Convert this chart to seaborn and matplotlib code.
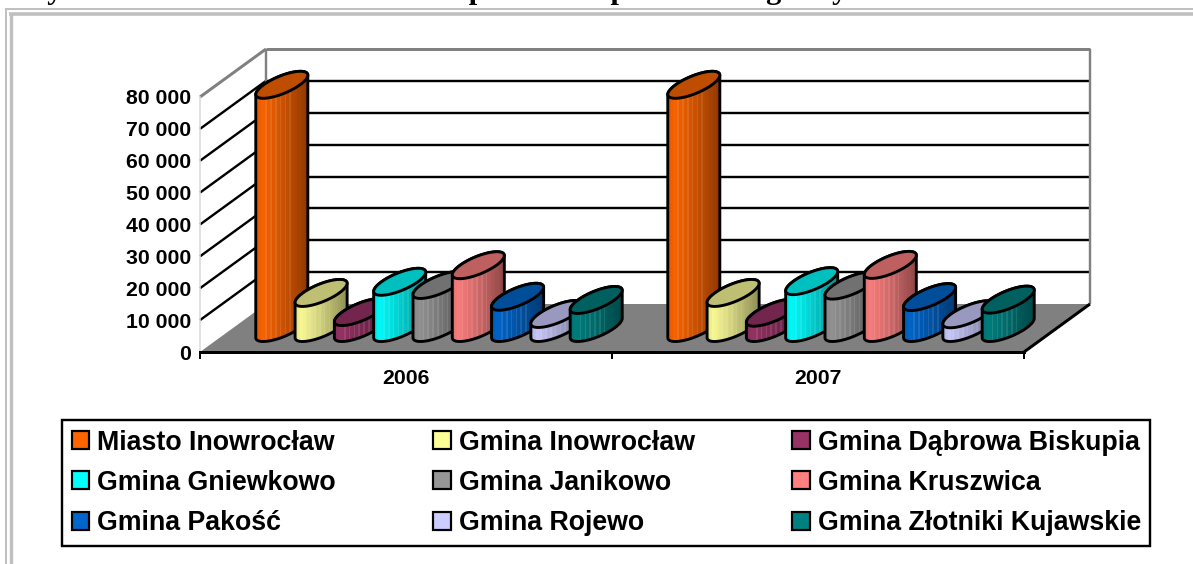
import numpy as np
import pandas as pd
import matplotlib
matplotlib.use("Agg")
import matplotlib.pyplot as plt
import seaborn as sns
from matplotlib.collections import PolyCollection
from matplotlib.lines import Line2D
from matplotlib.patches import Patch, Polygon
from matplotlib.path import Path
from matplotlib.transforms import Affine2D, IdentityTransform
from matplotlib.ticker import FuncFormatter

# ---- data ----
YEARS = ["2006", "2007"]
GMINY = ["Miasto Inowrocław", "Gmina Inowrocław", "Gmina Dąbrowa Biskupia",
         "Gmina Gniewkowo", "Gmina Janikowo", "Gmina Kruszwica",
         "Gmina Pakość", "Gmina Rojewo", "Gmina Złotniki Kujawskie"]
VALUES_2006 = [76300, 11000, 5000, 14500, 13500, 19700, 9800, 4400, 8800]
VALUES_2007 = [76300, 11000, 4800, 14700, 13300, 19800, 9700, 4300, 8900]
COLORS = ["#FF6600", "#FFFF99", "#993366", "#00FFFF", "#969696",
          "#FF8080", "#0066CC", "#CCCCFF", "#008080"]
Y_TICKS = [0, 10000, 20000, 30000, 40000, 50000, 60000, 70000, 80000]
TITLE = "Wykres nr 5. Liczba mieszkańców powiatu w podziale na gminy"

# ---- layout ----
W, H = 1193, 564
AX_L, AX_R, AX_B, AX_T = 200, 1024, 352, 97     # front plane, pixels from top-left
DEPTH = (66, 48)                                # oblique depth, pixels
ELL_U = (18.2, 0.0)
ELL_V = (18.6, 13.5)
FRAME = "#C0C0C0"
WALL = "#808080"
FONT = "Liberation Sans"
px = 0.72   # line width in points for one pixel at dpi 100

sns.set_theme(style="white")
plt.rcParams["font.family"] = [FONT, "DejaVu Sans"]

df = pd.DataFrame({
    "rok": [YEARS[0]] * len(GMINY) + [YEARS[1]] * len(GMINY),
    "gmina": GMINY + GMINY,
    "mieszkancy": VALUES_2006 + VALUES_2007,
})

fig = plt.figure(figsize=(W / 100, H / 100), dpi=100, facecolor="white")
ax = fig.add_axes([AX_L / W, 1 - AX_B / H, (AX_R - AX_L) / W, (AX_B - AX_T) / H])
sns.barplot(data=df, x="rok", y="mieszkancy", hue="gmina", hue_order=GMINY,
            palette=COLORS, width=0.8585, gap=0, dodge=True, legend=False,
            errorbar=None, ax=ax, saturation=1)
bars = list(ax.patches)
ax.set_xlim(-0.5, 1.5)
ax.set_ylim(0, 80000)
ax.set_facecolor("none")
ax.set_xlabel("")
ax.set_ylabel("")
fig.canvas.draw()

# ---- axes ----
ax.yaxis.set_major_formatter(FuncFormatter(lambda v, _: f"{int(v):,}".replace(",", " ")))
ax.set_yticks(Y_TICKS)
ax.tick_params(axis="y", length=0, pad=6.5, labelsize=15.3)
for t in ax.get_yticklabels():
    t.set_fontweight("bold"); t.set_color("black")
ax.set_xticks([-0.5, 0.5, 1.5])
ax.set_xticklabels(["", "", ""])
ax.set_xticks([0, 1], YEARS, minor=True)
ax.tick_params(axis="x", which="major", length=5, width=2 * px, color="black", bottom=True)
ax.tick_params(axis="x", which="minor", length=0, pad=12.5, labelsize=15.3, bottom=False)
for t in ax.get_xticklabels(minor=True):
    t.set_fontweight("bold"); t.set_color("black")
for s in ("top", "right"):
    ax.spines[s].set_visible(False)
ax.spines["bottom"].set_color("black")
ax.spines["bottom"].set_linewidth(3 * px)
ax.spines["bottom"].set_zorder(2.5)
ax.spines["left"].set_color("#D8D8D8")
ax.spines["left"].set_linewidth(1.5 * px)

# ---- walls, floor, gridlines in display coordinates derived from the axis scale ----
ident = IdentityTransform()
dx, dy = DEPTH
def disp(x, y):
    return ax.transData.transform((x, y))
def wall_line(xs, ys, color, lw, z):
    ax.add_artist(Line2D(xs, ys, transform=ident, color=color, lw=lw, zorder=z,
                         solid_capstyle="butt", clip_on=False))
x0, x1 = ax.get_xlim()
fl = disp(x0, 0); fr = disp(x1, 0)
ax.add_patch(Polygon([fl, fr, fr + [dx, dy], fl + [dx, dy]], closed=True, transform=ident,
                     facecolor=WALL, edgecolor="none", zorder=1.5, clip_on=False))
for v in Y_TICKS[1:]:
    a = disp(x0, v); b = disp(x1, v)
    color = WALL if v == Y_TICKS[-1] else "black"
    lw = (3 if v == Y_TICKS[-1] else 2.4) * px
    wall_line([a[0] + dx, b[0] + dx], [a[1] + dy, b[1] + dy], color, lw, 1)
    wall_line([a[0], a[0] + dx], [a[1], a[1] + dy], color, lw, 1)
top_l = disp(x0, Y_TICKS[-1]); top_r = disp(x1, Y_TICKS[-1])
for xx in (top_l[0] + dx, top_r[0] + dx):
    wall_line([xx, xx], [fl[1] + dy, top_l[1] + dy], WALL, 2.4 * px, 1.2)
wall_line([fr[0], fr[0] + dx], [fr[1], fr[1] + dy], "black", 3 * px, 2)
wall_line([fl[0], fr[0]], [fl[1], fr[1]], "black", 3 * px, 2)

# ---- cylinders from the bars seaborn drew ----
def shade(s):
    return np.interp(s, [0, 0.1, 0.5, 1.0], [0.88, 0.97, 0.80, 0.55])

ux, vx, vy = ELL_U[0], ELL_V[0], ELL_V[1]
t0 = np.arctan2(vx, ux)
half_w = np.hypot(ux, vx)
px_per_x = abs(disp(1, 0)[0] - disp(0, 0)[0])
bars = sorted(bars, key=lambda b: b.get_x())
for i, bar in enumerate(bars):
    z = 3 + i * 0.01
    col = np.array(matplotlib.colors.to_rgb(bar.get_facecolor()))
    xc = bar.get_x() + bar.get_width() / 2
    h = bar.get_height()
    base = disp(xc, 0) + [dx / 2, dy / 2]
    top = disp(xc, h) + [dx / 2, dy / 2]
    ta = np.linspace(t0, t0 + np.pi, 40)
    tb = np.linspace(t0 + np.pi, t0 + 2 * np.pi, 40)
    upper = np.c_[top[0] + ux * np.cos(ta) + vx * np.sin(ta), top[1] + vy * np.sin(ta)]
    lower = np.c_[base[0] + ux * np.cos(tb) + vx * np.sin(tb), base[1] + vy * np.sin(tb)]
    sil = Path(np.r_[upper, lower, upper[:1]], closed=True)
    # seaborn's rectangle becomes the body of the cylinder
    bar.set_x(xc - half_w / px_per_x)
    bar.set_width(2 * half_w / px_per_x)
    bar.set_transform(ax.transData + Affine2D().translate(dx / 2, dy / 2))
    bar.set_edgecolor("none")
    bar.set_zorder(z)
    bar.set_clip_box(None)
    bar.set_clip_path(sil, ident)
    # shaded strips
    edges = np.arange(-half_w, half_w, 1.6)
    ylo, yhi = base[1] - vy - 2, top[1] + vy + 2
    polys, fcs = [], []
    for j, e in enumerate(edges):
        s = (e + half_w) / (2 * half_w)
        c = col * shade(s)
        if 0.18 < s < 0.68 and j % 3 == 0:
            c = c + (1 - c) * 0.10
        polys.append([(base[0] + e, ylo), (base[0] + e + 1.7, ylo),
                      (base[0] + e + 1.7, yhi), (base[0] + e, yhi)])
        fcs.append(np.clip(c, 0, 1))
    strips = PolyCollection(polys, facecolors=fcs, edgecolors="none", transform=ident, zorder=z + 0.001)
    ax.add_collection(strips, autolim=False)
    strips.set_clip_box(None)
    strips.set_clip_path(sil, ident)
    # outline and lid
    ax.add_patch(Polygon(sil.vertices[:-1], closed=True, transform=ident, fill=False, edgecolor="black",
                         lw=2.9 * px, joinstyle="round", clip_on=False, zorder=z + 0.002))
    tl = np.linspace(0, 2 * np.pi, 80)
    lid = np.c_[top[0] + ux * np.cos(tl) + vx * np.sin(tl), top[1] + vy * np.sin(tl)]
    ax.add_patch(Polygon(lid, closed=True, transform=ident, facecolor=col * 0.75, edgecolor="black",
                         lw=2.9 * px, clip_on=False, zorder=z + 0.003))
ax.set_xlim(x0, x1)
ax.set_ylim(0, 80000)

# ---- legend ----
handles = [Patch(facecolor=c, edgecolor="black", linewidth=2.2 * px, label=g) for c, g in zip(COLORS, GMINY)]
# matplotlib fills columns first; reorder so that rows read as in the reference
by_col = [handles[i] for c in range(3) for i in range(c, 9, 3)]
leg = fig.legend(handles=by_col, ncol=3, loc="upper left",
                 bbox_to_anchor=(62 / W, 1 - 420 / H), borderaxespad=0,
                 prop={"weight": "bold", "size": 19.3}, labelcolor="black",
                 frameon=True, fancybox=False, framealpha=1, edgecolor="black",
                 handlelength=0.66, handleheight=0.66, handletextpad=0.28,
                 labelspacing=0.53, columnspacing=3.65, borderpad=0.36)
leg.get_frame().set_linewidth(2.4 * px)
leg.set_zorder(20)

# ---- page frame and clipped heading ----
for (x_a, y_a, x_b, y_b, lw) in [(6, H, 6, 9, 2), (5, 9, W, 9, 2), (10.5, H, 10.5, 14, 3.4), (9, 14, W, 14, 3.6)]:
    fig.add_artist(Line2D([x_a, x_b], [H - y_a, H - y_b], transform=ident, color=FRAME, lw=lw * px,
                          solid_capstyle="butt"))
fig.text(18 / W, 1 + 1 / H, TITLE, family="Liberation Serif", weight="bold", fontsize=21.9,
         ha="left", va="baseline", color="black")

fig.savefig("out.png", dpi=100)
